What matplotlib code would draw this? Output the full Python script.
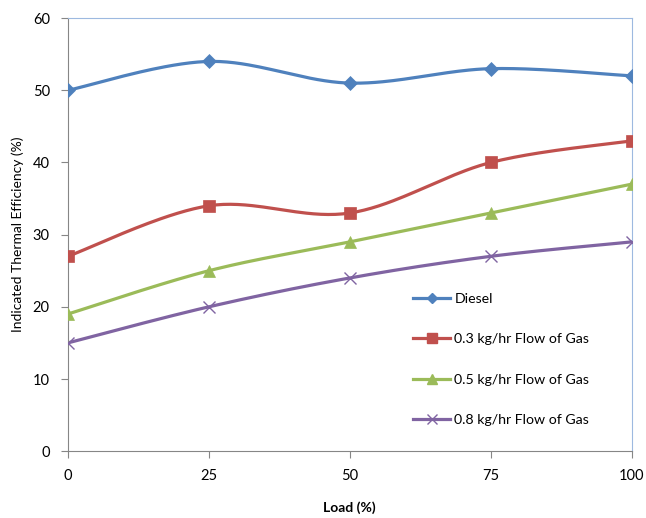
import numpy as np
import matplotlib.pyplot as plt

plt.rcParams['font.family'] = ['Lato', 'DejaVu Sans']

load = [0, 25, 50, 75, 100]
diesel = [50, 54, 51, 53, 52]
gas_03 = [27, 34, 33, 40, 43]
gas_05 = [19, 25, 29, 33, 37]
gas_08 = [15, 20, 24, 27, 29]

series = [
    ('Diesel', diesel, '#4F81BD', 'D', 7),
    ('0.3 kg/hr Flow of Gas', gas_03, '#C0504D', 's', 9),
    ('0.5 kg/hr Flow of Gas', gas_05, '#9BBB59', '^', 9),
    ('0.8 kg/hr Flow of Gas', gas_08, '#8064A2', 'x', 9),
]


def smooth(x, y, n=40):
    """Catmull-Rom style smoothing between the points, like a spreadsheet smoothed line."""
    x = np.asarray(x, float)
    y = np.asarray(y, float)
    px = np.concatenate([[x[0]], x, [x[-1]]])
    py = np.concatenate([[y[0]], y, [y[-1]]])
    xs, ys = [], []
    for i in range(1, len(px) - 2):
        p0 = np.array([px[i], py[i]])
        p3 = np.array([px[i + 1], py[i + 1]])
        c1 = p0 + (np.array([px[i + 1], py[i + 1]]) - np.array([px[i - 1], py[i - 1]])) / 6
        c2 = p3 - (np.array([px[i + 2], py[i + 2]]) - np.array([px[i], py[i]])) / 6
        t = np.linspace(0, 1, n)[:, None]
        b = ((1 - t) ** 3) * p0 + 3 * ((1 - t) ** 2) * t * c1 + 3 * (1 - t) * t ** 2 * c2 + t ** 3 * p3
        xs.append(b[:, 0])
        ys.append(b[:, 1])
    return np.concatenate(xs), np.concatenate(ys)


fig = plt.figure(figsize=(6.46, 5.18), dpi=100)
ax = fig.add_axes([0.105, 0.129, 0.873, 0.836])

for name, vals, col, mk, ms in series:
    sx, sy = smooth(load, vals)
    ax.plot(sx, sy, color=col, lw=2.3, zorder=2)
    ax.plot(load, vals, linestyle='none', marker=mk, color=col, markersize=ms,
            markeredgewidth=1.0 if mk == 'x' else 0.5, zorder=3)
    ax.plot([], [], color=col, lw=2.3, marker=mk, markersize=ms - 2, label=name)

ax.set_xlim(0, 100)
ax.set_ylim(0, 60)
ax.set_xticks(load)
ax.set_yticks(range(0, 61, 10))
ax.tick_params(direction='out', length=5, color='#868686', labelsize=10.5, pad=8)
for side in ['left', 'bottom']:
    ax.spines[side].set_color('#868686')
for side in ['top', 'right']:
    ax.spines[side].set_color('#9DB9E0')

ax.set_xlabel('Load (%)', fontsize=10, fontweight='bold', labelpad=13)
ax.set_ylabel('Indicated Thermal Efficiency (%)', fontsize=10, labelpad=6)

ax.legend(loc='upper left', bbox_to_anchor=(0.59, 0.395), frameon=False, fontsize=10.2,
          labelspacing=2.0, handlelength=2.6, handletextpad=0.3)

fig.savefig('out.png', dpi=100)
